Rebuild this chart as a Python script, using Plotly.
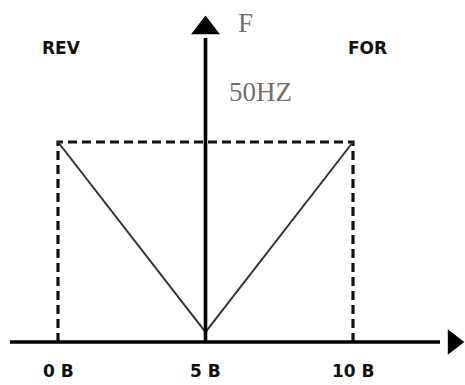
import plotly.graph_objects as go

# speed setting positions (x) and their tick labels
speed_pos = [0, 5, 10]
speed_labels = ["0 B", "5 B", "10 B"]

# output frequency curve (V shape) and the 50 Hz limit box
curve_x = [0, 5, 10]
curve_f = [50, 2.5, 50]
box_x = [0, 0, 10, 10]
box_f = [0, 50, 50, 0]

# axis extents
x_axis_start = -1.63
x_axis_end = 12.95
f_axis_end = 76

fig = go.Figure()

# dashed limit box
fig.add_trace(go.Scatter(x=box_x, y=box_f, mode="lines",
                         line=dict(color="#111", width=3.2, dash="9px,5px")))
# V curve
fig.add_trace(go.Scatter(x=curve_x, y=curve_f, mode="lines",
                         line=dict(color="#333", width=2)))
# horizontal axis
fig.add_trace(go.Scatter(x=[x_axis_start, x_axis_end], y=[0, 0], mode="lines",
                         line=dict(color="#000", width=3.6)))
# vertical axis
fig.add_trace(go.Scatter(x=[5, 5], y=[0, f_axis_end], mode="lines",
                         line=dict(color="#000", width=3.6)))
# arrow heads
fig.add_trace(go.Scatter(x=[x_axis_end + 0.45], y=[0], mode="markers", cliponaxis=False,
                         marker=dict(symbol="triangle-right", size=22, color="#000")))
fig.add_trace(go.Scatter(x=[5], y=[f_axis_end + 2.5], mode="markers", cliponaxis=False,
                         marker=dict(symbol="triangle-up", size=25, color="#000")))

sans = dict(family="DejaVu Sans", size=17, color="#111")

for p, lab in zip(speed_pos, speed_labels):
    fig.add_annotation(x=p, y=-7.3, text="<b>" + lab + "</b>", showarrow=False, font=sans)

fig.add_annotation(x=0.13, y=73.5, text="<b>REV</b>", showarrow=False, font=sans)
fig.add_annotation(x=10.5, y=73.5, text="<b>FOR</b>", showarrow=False, font=sans)
fig.add_annotation(x=6.37, y=79.8, text="F", showarrow=False,
                   font=dict(family="Liberation Serif", size=27, color="#707070"))
fig.add_annotation(x=6.88, y=62.5, text="50HZ", showarrow=False,
                   font=dict(family="Liberation Serif", size=27, color="#707070"))

fig.update_layout(
    width=465, height=385,
    margin=dict(l=0, r=0, t=0, b=0),
    paper_bgcolor="white", plot_bgcolor="white",
    showlegend=False,
    hovermode=False,
    xaxis=dict(range=[-58 / 29.5, 407 / 29.5], visible=False, fixedrange=True),
    yaxis=dict(range=[-43 / 4, 342 / 4], visible=False, fixedrange=True),
)

# drop the default 8px body margin so the figure fills the window
fig.write_html("out.html", config={"displayModeBar": False},
               post_script="document.body.style.margin='0';")
